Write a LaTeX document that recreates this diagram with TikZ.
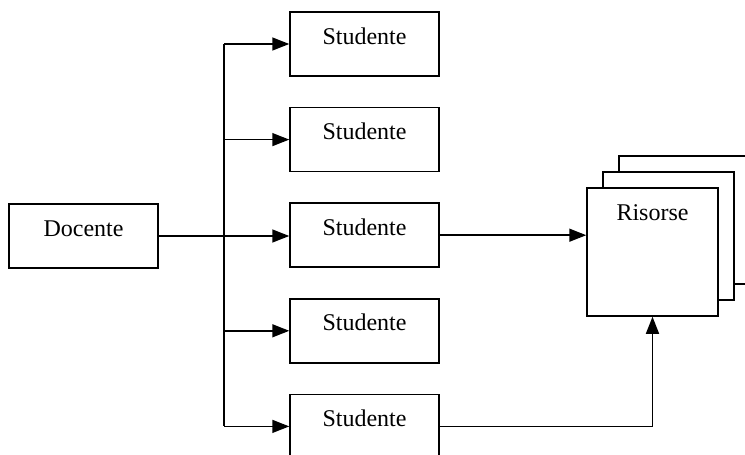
\documentclass[tikz,border=0pt]{standalone}
\usepackage{fontspec}
\setmainfont{Liberation Serif}
\usetikzlibrary{arrows.meta}
\begin{document}
\begin{tikzpicture}[x=1pt, y=-1pt,
  line width=1.5pt,
  box/.style={draw, fill=white, rectangle, inner xsep=0pt, inner ysep=0pt,
    minimum width=149pt, text height=32pt, text depth=32pt,
    font=\fontsize{24}{28}\selectfont},
  sheet/.style={draw, fill=white, rectangle, inner sep=0pt,
    minimum width=131pt, minimum height=128pt},
  res/.style={sheet, text height=32pt, text depth=96pt,
    font=\fontsize{24}{28}\selectfont},
  arr/.style={-{Triangle[length=17pt, width=13pt]}}]
  \useasboundingbox (0,0) rectangle (745,455);
  \clip (0,0) rectangle (745,455);

  % teacher
  \node[box] (doc) at (83.5,236) {Docente};

  % students
  \node[box] (s1) at (364.5,44) {Studente};
  \node[box] (s2) at (364.5,139.6) {Studente};
  \node[box] (s3) at (364.5,235.2) {Studente};
  \node[box] (s4) at (364.5,330.8) {Studente};
  \node[box] (s5) at (364.5,426.4) {Studente};

  % stack of resources
  \node[sheet] (r3) at (684.5,220) {};
  \node[sheet] (r2) at (668.5,236) {};
  \node[res]   (r1) at (652.5,252) {Risorse};

  % distribution bus
  \coordinate (bus) at (224,0);
  \draw (s1.west -| bus) -- (s5.west -| bus);
  \draw[arr] (doc.east) -- (doc.east -| s3.west);
  \draw[arr] (s1.west -| bus) -- (s1.west);
  \draw[arr] (s2.west -| bus) -- (s2.west);
  \draw[arr] (s4.west -| bus) -- (s4.west);
  \draw[arr] (s5.west -| bus) -- (s5.west);

  % links to the resources
  \draw[arr] (s3.east) -- (s3.east -| r1.west);
  \draw[arr] (s5.east) -| (r1.south);
\end{tikzpicture}
\end{document}
